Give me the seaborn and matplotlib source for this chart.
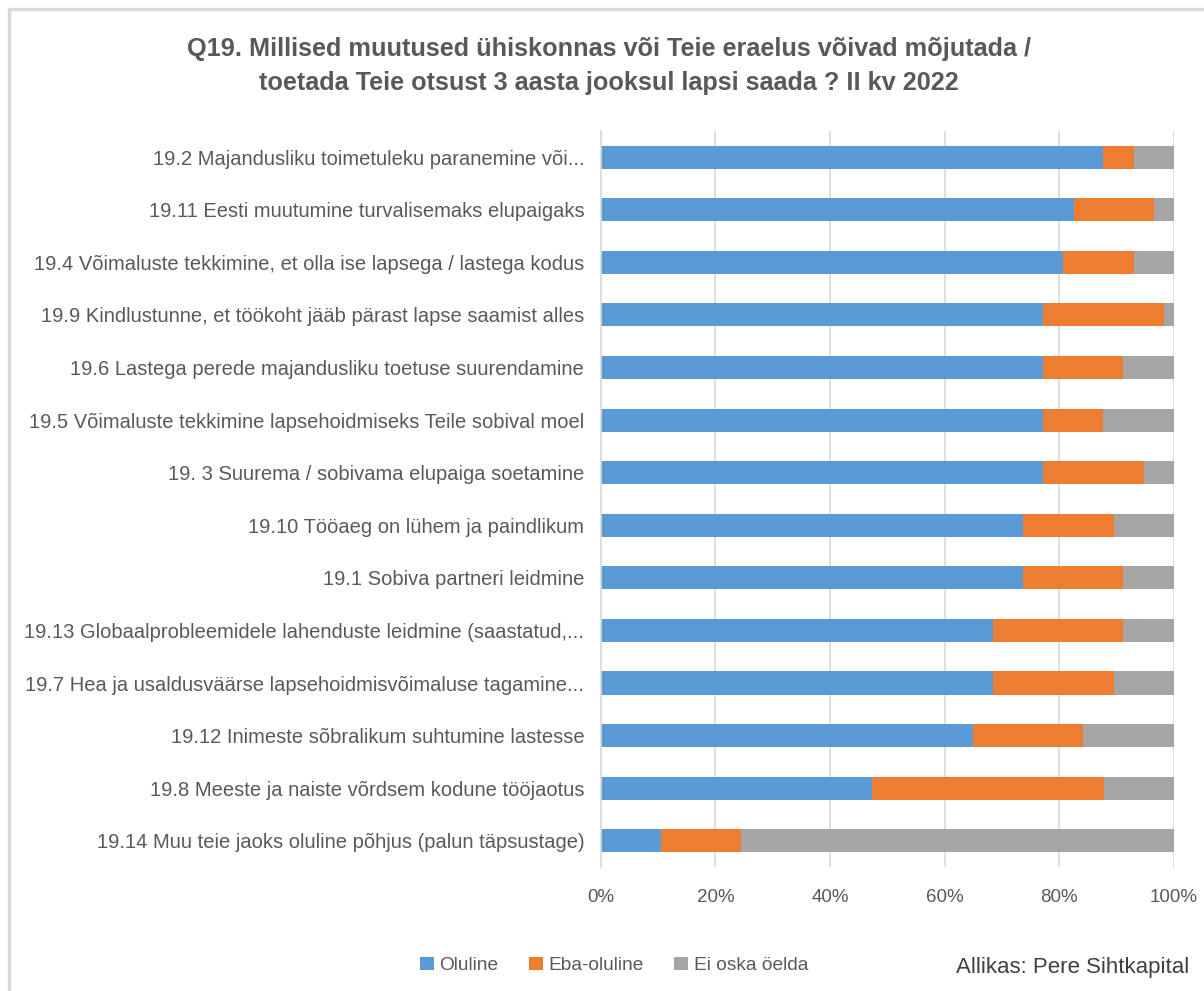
import matplotlib
matplotlib.use("Agg")
import matplotlib.pyplot as plt
from matplotlib.patches import Patch, Rectangle
import seaborn as sns
import pandas as pd

# Survey answers in percent
labels = [
    "19.2 Majandusliku toimetuleku paranemine või...",
    "19.11 Eesti muutumine turvalisemaks elupaigaks",
    "19.4 Võimaluste tekkimine, et olla ise lapsega / lastega kodus",
    "19.9 Kindlustunne, et töökoht jääb pärast lapse saamist alles",
    "19.6 Lastega perede majandusliku toetuse suurendamine",
    "19.5 Võimaluste tekkimine lapsehoidmiseks Teile sobival moel",
    "19. 3 Suurema / sobivama elupaiga soetamine",
    "19.10 Tööaeg on lühem ja paindlikum",
    "19.1 Sobiva partneri leidmine",
    "19.13 Globaalprobleemidele lahenduste leidmine (saastatud,...",
    "19.7 Hea ja usaldusväärse lapsehoidmisvõimaluse tagamine...",
    "19.12 Inimeste sõbralikum suhtumine lastesse",
    "19.8 Meeste ja naiste võrdsem kodune tööjaotus",
    "19.14 Muu teie jaoks oluline põhjus (palun täpsustage)",
]
oluline = [87.7, 82.5, 80.7, 77.2, 77.2, 77.2, 77.2, 73.7, 73.7, 68.4, 68.4, 64.9, 47.4, 10.5]
eba_oluline = [5.3, 14.0, 12.3, 21.1, 14.0, 10.5, 17.5, 15.8, 17.5, 22.8, 21.1, 19.3, 40.4, 14.0]
ei_oska = [7.0, 3.5, 7.0, 1.7, 8.8, 12.3, 5.3, 10.5, 8.8, 8.8, 10.5, 15.8, 12.2, 75.5]

series = ["Oluline", "Eba-oluline", "Ei oska öelda"]
colors = ["#5B9BD5", "#ED7D31", "#A5A5A5"]
text_color = "#595959"

df = pd.DataFrame({"label": labels, "Oluline": oluline,
                   "Eba-oluline": eba_oluline, "Ei oska öelda": ei_oska})
# cumulative ends for stacking
df["c1"] = df["Oluline"]
df["c2"] = df["c1"] + df["Eba-oluline"]
df["c3"] = df["c2"] + df["Ei oska öelda"]

sns.set_theme(style="white")
plt.rcParams["font.family"] = ["Liberation Sans", "DejaVu Sans"]

fig = plt.figure(figsize=(12.04, 9.91), dpi=100)
ax = fig.add_axes([0.499, 0.125, 0.476, 0.743])

# draw longest first so shorter segments sit on top
for col, color in zip(["c3", "c2", "c1"], colors[::-1]):
    sns.barplot(data=df, x=col, y="label", order=labels, color=color,
                width=0.44, orient="h", ax=ax, saturation=1, linewidth=0)

ax.set_xlim(0, 100)
ax.set_xticks([0, 20, 40, 60, 80, 100])
ax.set_xticklabels([f"{t}%" for t in [0, 20, 40, 60, 80, 100]])
ax.grid(axis="x", color="#D9D9D9", linewidth=1.2)
ax.set_axisbelow(True)
ax.set_xlabel("")
ax.set_ylabel("")
for side in ["top", "right", "bottom"]:
    ax.spines[side].set_visible(False)
ax.spines["left"].set_color("#D9D9D9")
ax.spines["left"].set_linewidth(1.2)
ax.tick_params(axis="y", length=0, pad=12, labelsize=14.5, labelcolor=text_color)
ax.tick_params(axis="x", length=0, pad=16, labelsize=13.5, labelcolor=text_color)

fig.text(0.506, 0.951, "Q19. Millised muutused ühiskonnas või Teie eraelus võivad mõjutada /",
         ha="center", va="center", fontsize=18.2, fontweight="bold", color=text_color)
fig.text(0.506, 0.916, "toetada Teie otsust 3 aasta jooksul lapsi saada ? II kv 2022",
         ha="center", va="center", fontsize=18.2, fontweight="bold", color=text_color)

handles = [Patch(facecolor=c, edgecolor="none", label=s) for s, c in zip(series, colors)]
fig.legend(handles=handles, loc="center", bbox_to_anchor=(0.51, 0.026), ncol=3,
           frameon=False, fontsize=13.8, handlelength=0.7, handleheight=0.7,
           handletextpad=0.3, columnspacing=1.6, labelcolor=text_color)

fig.text(0.988, 0.024, "Allikas: Pere Sihtkapital", ha="right", va="center",
         fontsize=16, color="#404040")

# chart area border
fig.patches.append(Rectangle((9 / 1204, -0.01), 1.02, 1 - 9 / 991 + 0.01,
                             transform=fig.transFigure, fill=False,
                             edgecolor="#D9D9D9", linewidth=2.5))

fig.savefig("out.png", dpi=100)
